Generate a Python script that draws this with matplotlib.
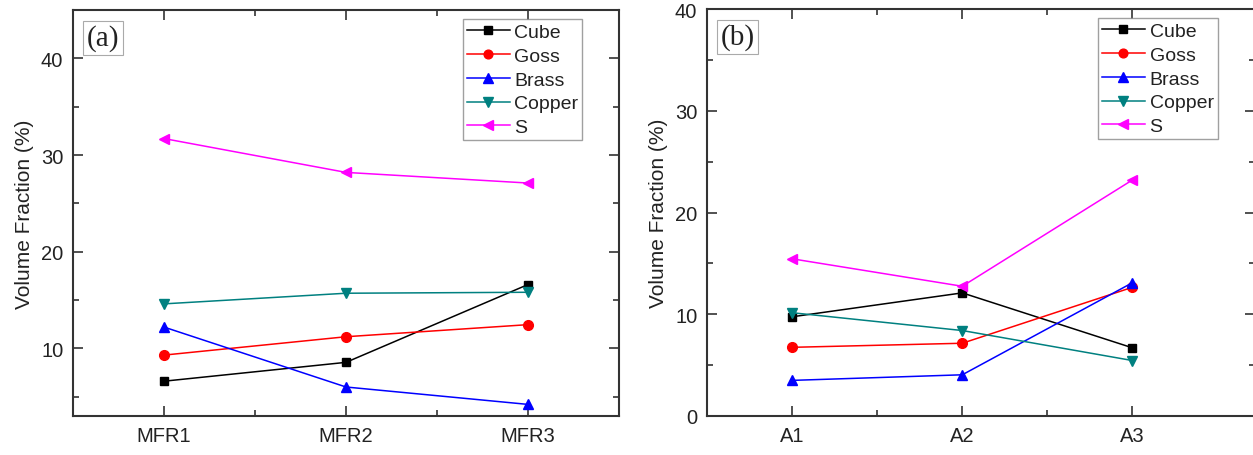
import matplotlib.pyplot as plt
from matplotlib.ticker import MultipleLocator, FixedLocator

plt.rcParams['font.family'] = ['Liberation Sans', 'DejaVu Sans']

# texture components, volume fraction (%)
components = ['Cube', 'Goss', 'Brass', 'Copper', 'S']
colors = ['black', 'red', 'blue', '#008080', 'magenta']
markers = ['s', 'o', '^', 'v', '<']

mfr_labels = ['MFR1', 'MFR2', 'MFR3']
mfr_cube = [6.6, 8.55, 16.6]
mfr_goss = [9.3, 11.2, 12.45]
mfr_brass = [12.2, 6.0, 4.2]
mfr_copper = [14.6, 15.7, 15.8]
mfr_s = [31.7, 28.2, 27.1]

a_labels = ['A1', 'A2', 'A3']
a_cube = [9.75, 12.1, 6.7]
a_goss = [6.75, 7.15, 12.65]
a_brass = [3.5, 4.05, 13.1]
a_copper = [10.15, 8.4, 5.45]
a_s = [15.45, 12.75, 23.2]

edge = '#333333'
fig = plt.figure(figsize=(12.53, 4.56), dpi=100)
ax1 = fig.add_axes([73/1253, 39/456, 546/1253, 406/456])
ax2 = fig.add_axes([707/1253, 39/456, 548/1253, 407/456])


def draw_panel(ax, labels, series, ylim, xmax, tag, leg_x):
    x = list(range(1, len(labels) + 1))
    for vals, name, c, m in zip(series, components, colors, markers):
        ms = 6 if m == 's' else (7.5 if m in '^v<' else 7)
        ax.plot(x, vals, color=c, marker=m, markersize=ms, lw=1.1, label=name)
    ax.set_xlim(0.5, xmax)
    ax.set_ylim(*ylim)
    ax.set_xticks(x)
    ax.set_xticklabels(labels)
    ax.xaxis.set_minor_locator(FixedLocator([1.5, 2.5]))
    ax.yaxis.set_major_locator(MultipleLocator(10))
    ax.yaxis.set_minor_locator(MultipleLocator(5))
    ax.tick_params(which='both', direction='in', top=True, right=True,
                   labelsize=14.5, colors=edge, labelcolor='#222222')
    ax.tick_params(which='major', length=7, width=1.2, pad=7)
    ax.tick_params(which='minor', length=4, width=1.2)
    for sp in ax.spines.values():
        sp.set_color(edge)
        sp.set_linewidth(1.5)
    ax.set_ylabel('Volume Fraction (%)', fontsize=15, color='#222222', labelpad=5)
    ax.text(0.025, 0.965, tag, transform=ax.transAxes, ha='left', va='top',
            fontsize=21, family='Liberation Serif', color='#222222',
            bbox=dict(boxstyle='square,pad=0.12', fc='white', ec='#aaaaaa', lw=0.8))
    leg = ax.legend(loc='upper left', bbox_to_anchor=(leg_x, 0.977), fontsize=14,
                    frameon=True, fancybox=False, borderaxespad=0, borderpad=0.2,
                    handlelength=2.2, handletextpad=0.25, labelspacing=0.32,
                    markerscale=0.9)
    leg.get_frame().set_edgecolor('#888888')
    leg.get_frame().set_linewidth(1.0)
    for t in leg.get_texts():
        t.set_color('#222222')


draw_panel(ax1, mfr_labels, [mfr_cube, mfr_goss, mfr_brass, mfr_copper, mfr_s],
           (3, 45), 3.5, '(a)', 0.714)
draw_panel(ax2, a_labels, [a_cube, a_goss, a_brass, a_copper, a_s],
           (0, 40), 3.72, '(b)', 0.7135)

fig.savefig('out.png', dpi=100)
